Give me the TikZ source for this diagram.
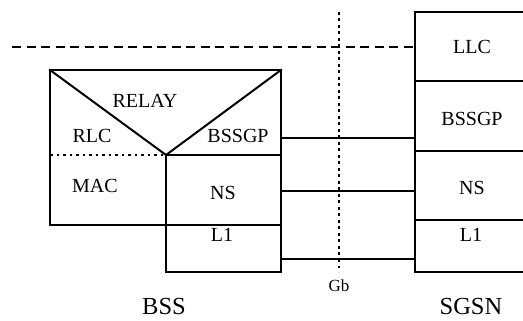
\documentclass[tikz,border=0pt]{standalone}
\usepackage{fontspec}
\setmainfont{Liberation Serif}
\begin{document}
\begin{tikzpicture}[x=1pt,y=-1pt,
  box/.style={line width=2pt,line cap=rect},
  link/.style={line width=1.6pt},
  dotline/.style={line width=1.8pt,dash pattern=on 2.6pt off 3.9pt},
  dashline/.style={line width=1.6pt,dash pattern=on 9pt off 5.5pt},
  lbl/.style={font=\fontsize{20}{24}\selectfont,inner sep=0pt},
  big/.style={font=\fontsize{24.5}{28}\selectfont,inner sep=0pt},
  small/.style={font=\fontsize{17}{20}\selectfont,inner sep=0pt}]
\useasboundingbox (0,0) rectangle (523,321);
% coordinates
\coordinate (tl) at (50,70);
\coordinate (tr) at (281,70);
\coordinate (v) at (166,155);
\coordinate (ml) at (50,155);
\coordinate (bl) at (50,225);
\coordinate (nsbr) at (281,225);
\coordinate (l1bl) at (166,272);
\coordinate (l1br) at (281,272);
% BSS stack
\draw[box] (bl) -- (tl) -- (tr) -- (l1br) -- (l1bl) -- (v);
\draw[box] (bl) -- (nsbr);
\draw[box] (tl) -- (v) -- (tr);
\draw[box] (v) -- (281,155);
\draw[dotline] (ml) -- (v);
% SGSN stack
\coordinate (s0) at (415,12.5);
\coordinate (s4) at (415,272);
\draw[box] (530,12.5) -- (s0) -- (s4) -- (530,272);
\draw[box] (415,81) -- (530,81);
\draw[box] (415,151) -- (530,151);
\draw[box] (415,220) -- (530,220);
% connectors
\coordinate (bssgpL) at (281,138);
\coordinate (bssgpR) at (415,138);
\coordinate (nsL) at (281,191);
\coordinate (nsR) at (415,191);
\coordinate (l1L) at (281,259);
\coordinate (l1R) at (415,259);
\draw[link] (bssgpL) -- (bssgpR);
\draw[link] (nsL) -- (nsR);
\draw[link] (l1L) -- (l1R);
% Gb interface and upper dashed line
\coordinate (gbtop) at (339,12);
\coordinate (gbbot) at (339,272);
\draw[dotline] (gbtop) -- (gbbot);
\coordinate (dashL) at (12,47);
\draw[dashline] (dashL) -- (s0 |- dashL);
% labels
\node[lbl] (relay) at (145,101) {RELAY};
\node[lbl] (rlc) at (92,136) {RLC};
\node[lbl] (bssgp1) at (238,136) {BSSGP};
\node[lbl] (mac) at (95,186) {MAC};
\node[lbl] (ns1) at (223,192.5) {NS};
\node[lbl] (l11) at (222,235) {L1};
\node[lbl] (llc) at (472,47) {LLC};
\node[lbl] (bssgp2) at (472,119) {BSSGP};
\node[lbl] (ns2) at (472,188) {NS};
\node[lbl] (l12) at (471,235) {L1};
\node[small] (gb) at (339,286) {Gb};
\node[big] (bss) at (164,307) {BSS};
\node[big] (sgsn) at (471,307) {SGSN};
\end{tikzpicture}
\end{document}
